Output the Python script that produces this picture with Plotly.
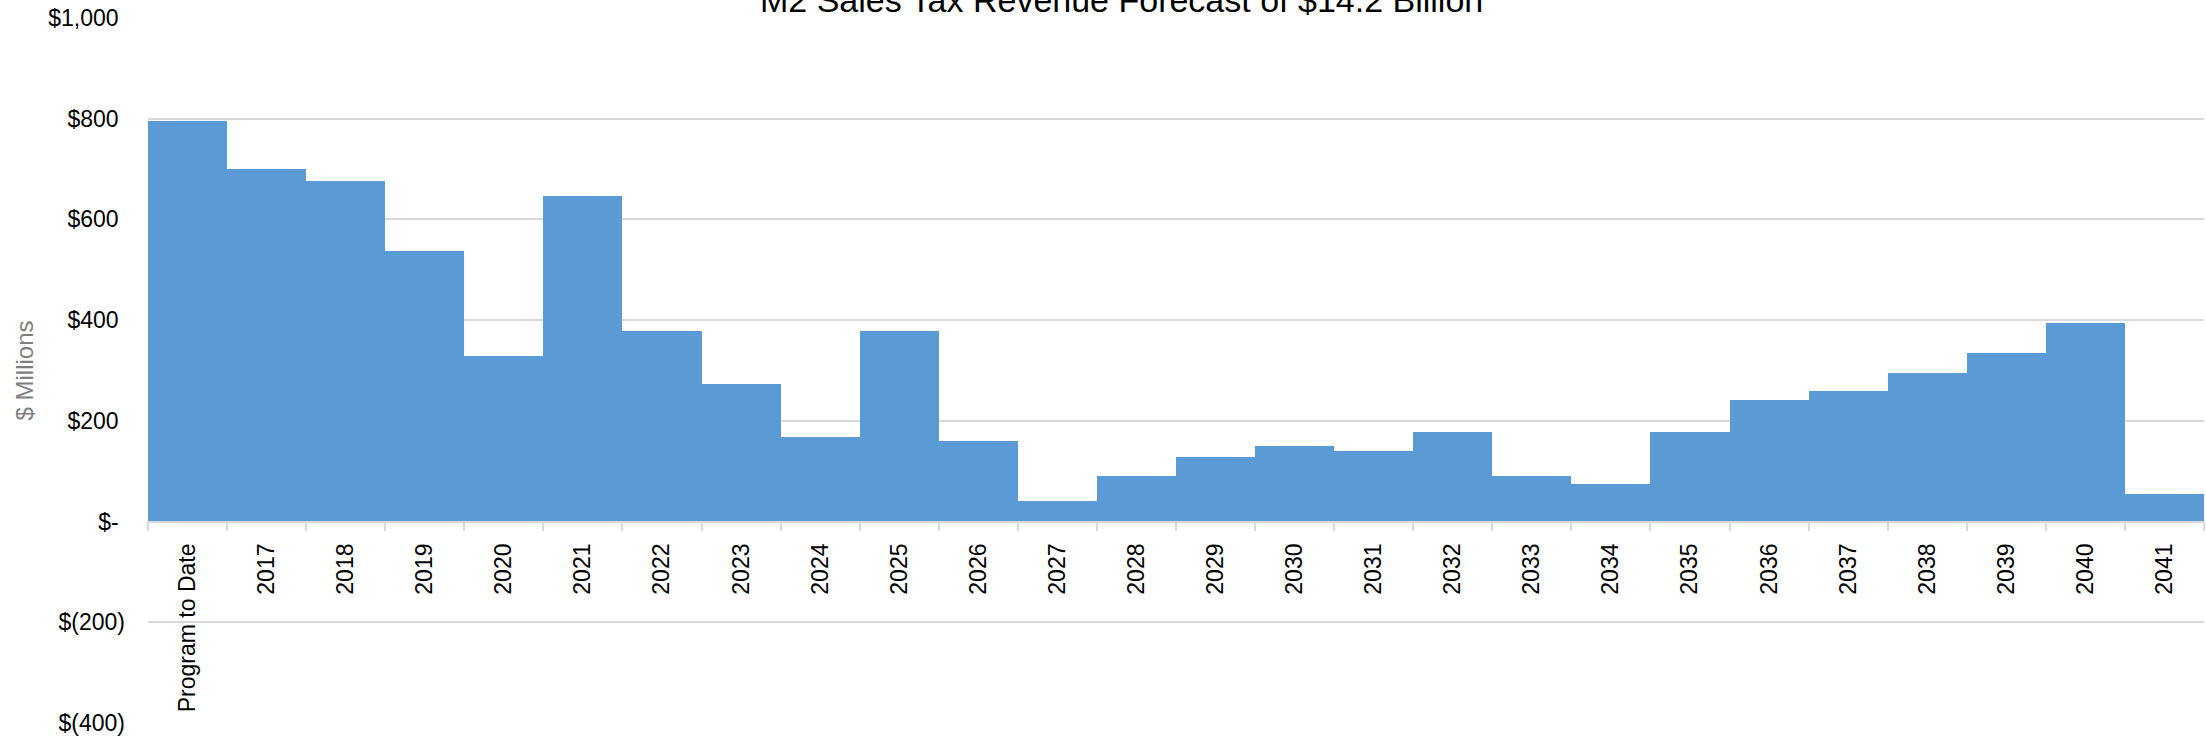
import plotly.graph_objects as go

categories = ["Program to Date"] + [str(y) for y in range(2017, 2042)]
values = [796, 700, 676, 537, 328, 646, 379, 274, 168, 379, 160, 41, 90,
          128, 151, 141, 177, 91, 75, 177, 241, 260, 295, 334, 395, 54]

y_tickvals = [1000, 800, 600, 400, 200, 0, -200, -400]
y_ticktext = ["$1,000\u00a0", "$800\u00a0", "$600\u00a0", "$400\u00a0", "$200\u00a0",
              "$-\u00a0", "$(200)", "$(400)"]

title_text = "M2 Sales Tax Revenue Forecast of $14.2 Billion"
y_title = "$ Millions"

FONT = "Liberation Sans"
W, H = 2206, 737
ML, MR, MT, MB = 148, 2, 18, 14
plot_w = W - ML - MR

ymin, ymax = -400, 1000

fig = go.Figure()
fig.add_trace(go.Bar(
    x=categories, y=values,
    marker=dict(color="#5B9BD5", line=dict(width=0)),
    showlegend=False,
))

fig.update_layout(
    width=W, height=H,
    margin=dict(l=ML, r=MR, t=MT, b=MB, pad=0),
    paper_bgcolor="white", plot_bgcolor="white",
    bargap=0,
    font=dict(family=FONT, size=23, color="#000000"),
    xaxis=dict(
        type="category",
        anchor="free",
        position=(0 - ymin) / (ymax - ymin),
        showgrid=False,
        showline=True, linecolor="#D9D9D9", linewidth=1.5,
        ticks="outside", tickson="boundaries", ticklen=9,
        tickcolor="#D9D9D9", tickwidth=1.5,
        tickangle=-90,
        ticklabelstandoff=12,
        tickfont=dict(family=FONT, size=23, color="#000000"),
        fixedrange=True,
    ),
    yaxis=dict(
        range=[ymin, ymax],
        tickvals=y_tickvals, ticktext=y_ticktext,
        showgrid=True, gridcolor="#D9D9D9", gridwidth=1.5,
        zeroline=True, zerolinecolor="#D9D9D9", zerolinewidth=1.5,
        showline=False, ticks="",
        ticklabelstandoff=22,
        tickfont=dict(family=FONT, size=23, color="#000000"),
        fixedrange=True,
    ),
    annotations=[
        dict(text=title_text, xref="paper", yref="paper",
             x=(1121 - ML) / plot_w, y=1.0, xanchor="center", yanchor="bottom",
             yshift=-3, showarrow=False,
             font=dict(family=FONT, size=34, color="#000000")),
        dict(text=y_title, xref="paper", yref="paper",
             x=(24 - ML) / plot_w, y=0.5, xanchor="center", yanchor="middle",
             textangle=-90, showarrow=False,
             font=dict(family=FONT, size=24, color="#7F7F7F")),
    ],
)

fig.write_html("out.html")
